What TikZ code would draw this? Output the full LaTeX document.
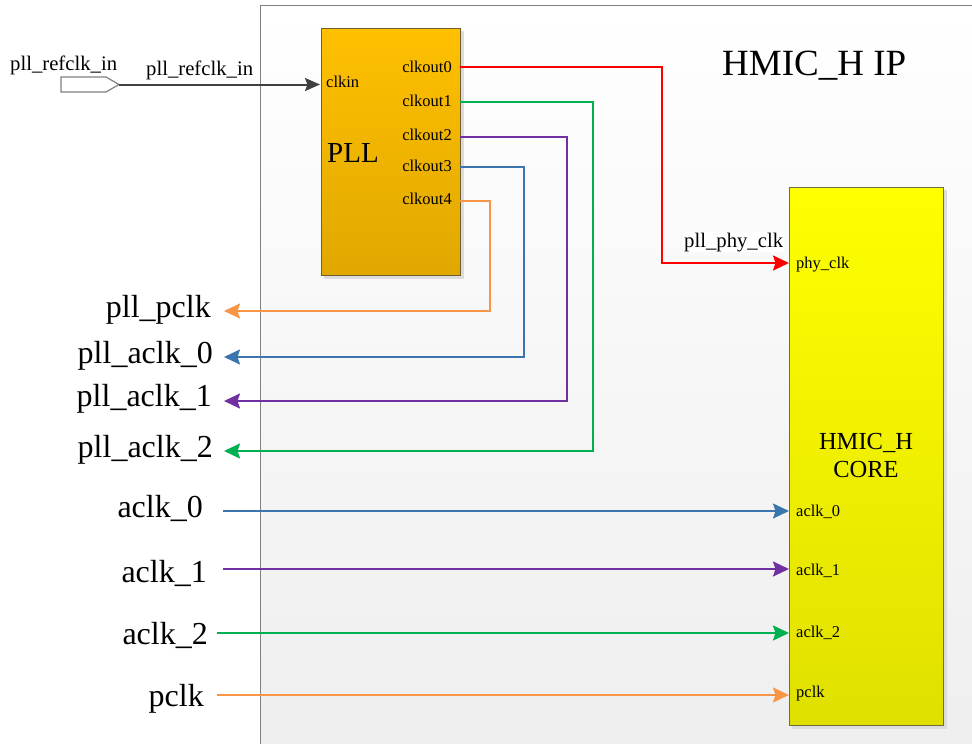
\documentclass[tikz,border=0pt]{standalone}
\usepackage{fontspec}
\setmainfont{Liberation Serif}
\usetikzlibrary{arrows.meta}
\definecolor{cred}{HTML}{FF0000}
\definecolor{cgreen}{HTML}{00B050}
\definecolor{cpurple}{HTML}{7030A0}
\definecolor{cblue}{HTML}{3A75B0}
\definecolor{corange}{HTML}{F79646}
\definecolor{framegray}{HTML}{808080}
\definecolor{bgbot}{HTML}{EEEEEE}
\definecolor{plltop}{HTML}{FFC000}
\definecolor{pllbot}{HTML}{E0A800}
\definecolor{pllborder}{HTML}{6E5E30}
\definecolor{coretop}{HTML}{FFFF00}
\definecolor{corebot}{HTML}{E0E000}
\definecolor{coreborder}{HTML}{6E6E40}
\definecolor{shadowgray}{HTML}{DCDCDC}
\definecolor{inwire}{HTML}{404040}
\begin{document}
\begin{tikzpicture}[x=1pt,y=-1pt,
  sig/.style={line width=2pt, line join=miter, -{Stealth[length=16pt,width=15pt,inset=2.5pt]}},
  bigtxt/.style={font=\fontsize{32}{36}\selectfont, inner sep=0pt},
  smalltxt/.style={font=\fontsize{16.5}{19}\selectfont, inner sep=0pt},
  midtxt/.style={font=\fontsize{20.7}{24}\selectfont, inner sep=0pt},
  corelabtxt/.style={font=\fontsize{24.5}{28}\selectfont, inner sep=0pt},
  blockbox/.style={draw, line width=1pt, inner sep=0pt, anchor=north west}
]
\useasboundingbox (0,0) rectangle (972,744);
\clip (0,0) rectangle (972,744);
\fill[white] (0,0) rectangle (972,744);

% outer IP frame
\node[blockbox, draw=framegray, top color=white, bottom color=bgbot,
      minimum width=730pt, minimum height=760pt] (ip) at (260,5) {};
\node[font=\fontsize{37}{42}\selectfont, inner sep=0pt, anchor=base west] (title) at (722,75) {HMIC\_H IP};

% PLL block
\fill[shadowgray] (324,31) rectangle (464,279);
\node[blockbox, draw=pllborder, top color=plltop, bottom color=pllbot,
      minimum width=139pt, minimum height=247pt] (pll) at (321,28) {};
\node[font=\fontsize{29}{32}\selectfont, inner sep=0pt, anchor=base west] (plllab) at (327,162) {PLL};
\node[smalltxt, anchor=base west] (clkin) at (326,87) {clkin};
\node[smalltxt, anchor=base east] (co0) at (452,72) {clkout0};
\node[smalltxt, anchor=base east] (co1) at (452,106) {clkout1};
\node[smalltxt, anchor=base east] (co2) at (452,140) {clkout2};
\node[smalltxt, anchor=base east] (co3) at (452,171) {clkout3};
\node[smalltxt, anchor=base east] (co4) at (452,204) {clkout4};

% CORE block
\fill[shadowgray] (792,190) rectangle (947,729);
\node[blockbox, draw=coreborder, top color=coretop, bottom color=corebot,
      minimum width=154pt, minimum height=538pt] (core) at (789,187) {};
\node[corelabtxt, anchor=base] (corel1) at (866,449) {HMIC\_H};
\node[corelabtxt, anchor=base] (corel2) at (866,477) {CORE};
\node[smalltxt, anchor=base west] (iphy) at (796,268) {phy\_clk};
\node[smalltxt, anchor=base west] (ia0) at (796,516) {aclk\_0};
\node[smalltxt, anchor=base west] (ia1) at (796,575) {aclk\_1};
\node[smalltxt, anchor=base west] (ia2) at (796,637) {aclk\_2};
\node[smalltxt, anchor=base west] (ipc) at (796,697) {pclk};

% left labels
\node[bigtxt, anchor=base east] (lpp) at (211,317) {pll\_pclk};
\node[bigtxt, anchor=base east] (lpa0) at (213,363) {pll\_aclk\_0};
\node[bigtxt, anchor=base east] (lpa1) at (212,406) {pll\_aclk\_1};
\node[bigtxt, anchor=base east] (lpa2) at (213,457) {pll\_aclk\_2};
\node[bigtxt, anchor=base east] (la0) at (203,517) {aclk\_0};
\node[bigtxt, anchor=base east] (la1) at (207,582) {aclk\_1};
\node[bigtxt, anchor=base east] (la2) at (208,644) {aclk\_2};
\node[bigtxt, anchor=base east] (lpc) at (204,706) {pclk};

% input port
\node[midtxt, anchor=base west] (reflab) at (10,70) {pll\_refclk\_in};
\draw[draw=framegray, line width=1.2pt, fill=white] (61,77) -- (106,77) -- (119,84.5) -- (106,92) -- (61,92) -- cycle;
\coordinate (porttip) at (119,84.5);
\coordinate (pllin) at (320,84.5);
\draw[inwire, line width=2pt, -{Stealth[length=15pt,width=13pt,inset=2.5pt]}] (porttip) -- (pllin);
\node[midtxt, anchor=base west] (refwire) at (146,75) {pll\_refclk\_in};

% port coordinates
\coordinate (p0) at (460,67);
\coordinate (p1) at (460,102);
\coordinate (p2) at (460,137);
\coordinate (p3) at (460,167);
\coordinate (p4) at (460,201);
\coordinate (t0) at (662,263);
\coordinate (t1) at (593,451);
\coordinate (t2) at (567,401);
\coordinate (t3) at (524,357);
\coordinate (t4) at (490,311);
\coordinate (phyin) at (789,263);
\coordinate (opa2) at (224,451);
\coordinate (opa1) at (224,401);
\coordinate (opa0) at (224,357);
\coordinate (opp) at (224,311);
\coordinate (sa0) at (223,511);
\coordinate (sa1) at (223,569);
\coordinate (sa2) at (217,633);
\coordinate (spc) at (217,695);
\coordinate (ea0) at (789,511);
\coordinate (ea1) at (789,569);
\coordinate (ea2) at (789,633);
\coordinate (epc) at (789,695);

% PLL outputs
\draw[sig, cred] (p0) -| (t0) -- (phyin);
\draw[sig, cgreen] (p1) -| (t1) -- (opa2);
\draw[sig, cpurple] (p2) -| (t2) -- (opa1);
\draw[sig, cblue] (p3) -| (t3) -- (opa0);
\draw[sig, corange] (p4) -| (t4) -- (opp);
\node[midtxt, fill=white, inner sep=1pt, anchor=base west] (phylab) at (683,247) {pll\_phy\_clk};

% external clock inputs
\draw[sig, cblue] (sa0) -- (ea0);
\draw[sig, cpurple] (sa1) -- (ea1);
\draw[sig, cgreen] (sa2) -- (ea2);
\draw[sig, corange] (spc) -- (epc);
\end{tikzpicture}
\end{document}
